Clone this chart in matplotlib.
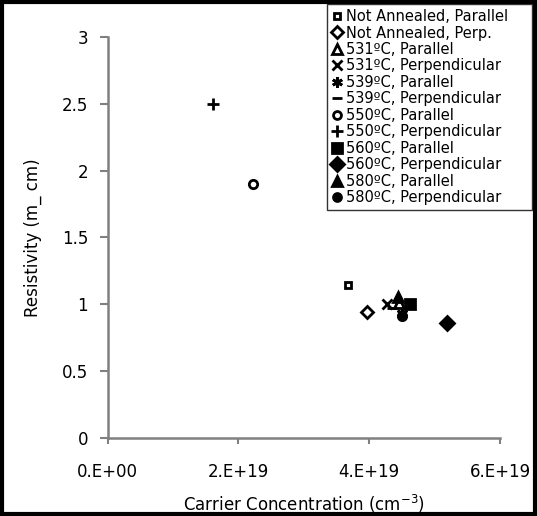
import matplotlib
matplotlib.use("Agg")
import matplotlib.pyplot as plt
from matplotlib.patches import Rectangle

# data
labels = ["Not Annealed, Parallel", "Not Annealed, Perp.",
          "531ºC, Parallel", "531ºC, Perpendicular",
          "539ºC, Parallel", "539ºC, Perpendicular",
          "550ºC, Parallel", "550ºC, Perpendicular",
          "560ºC, Parallel", "560ºC, Perpendicular",
          "580ºC, Parallel", "580ºC, Perpendicular"]
carrier = [3.68e19, 3.97e19,
           4.45e19, 4.28e19,
           4.50e19, 4.35e19,
           2.23e19, 1.61e19,
           4.62e19, 5.19e19,
           4.44e19, 4.50e19]
resist = [1.14, 0.94,
          1.01, 1.00,
          0.93, 0.97,
          1.90, 2.50,
          1.00, 0.86,
          1.05, 0.91]
xticks = [0, 2e19, 4e19, 6e19]
xtick_labels = ["0.E+00", "2.E+19", "4.E+19", "6.E+19"]
yticks = [0, 0.5, 1, 1.5, 2, 2.5, 3]
ytick_labels = ["0", "0.5", "1", "1.5", "2", "2.5", "3"]

# marker style per series: (marker, filled, size)
styles = [("s", False, 5), ("D", False, 6),
          ("^", False, 7), ("x", True, 7),
          ((6, 2, 0), True, 8), ("_", True, 7),
          ("o", False, 6), ("+", True, 9),
          ("s", True, 7), ("D", True, 7),
          ("^", True, 7), ("o", True, 6)]

plt.rcParams["font.family"] = ["DejaVu Sans"]

fig = plt.figure(figsize=(5.37, 5.16), dpi=100)
ax = fig.add_axes([0.2005, 0.152, 0.7305, 0.776])

handles = []
for lab, x, y, (m, filled, ms) in zip(labels, carrier, resist, styles):
    h, = ax.plot([x], [y], linestyle="none", marker=m, markersize=ms,
                 markerfacecolor="black" if filled else "white",
                 markeredgecolor="black", markeredgewidth=2, label=lab)
    handles.append(h)

ax.set_xlim(0, 6e19)
ax.set_ylim(0, 3)
ax.set_xticks(xticks)
ax.set_xticklabels(xtick_labels)
ax.set_yticks(yticks)
ax.set_yticklabels(ytick_labels)
for side in ["top", "right"]:
    ax.spines[side].set_visible(False)
for side in ["left", "bottom"]:
    ax.spines[side].set_color("#808080")
    ax.spines[side].set_linewidth(1.8)
ax.tick_params(axis="both", colors="#808080", labelcolor="black", width=1.5,
               labelsize=12, direction="out")
ax.tick_params(axis="y", length=6, pad=8)
ax.tick_params(axis="x", length=4, pad=14)
ax.set_xlabel("Carrier Concentration (cm$^{-3}$)", fontsize=12, labelpad=9)
ax.set_ylabel("Resistivity (m_ cm)", fontsize=12, labelpad=14)

# legend box spans x 327..532 px, top hidden under the border
x0, x1 = 327 / 537, 532 / 537
leg = fig.legend(handles=handles, loc="upper left", mode="expand",
                 bbox_to_anchor=(x0, 1 - 216 / 516, x1 - x0, 212 / 516),
                 fontsize=10.5, frameon=True, fancybox=False, borderpad=0.35,
                 labelspacing=0.1, handlelength=0.7, handletextpad=0.25,
                 borderaxespad=0, markerscale=0.95)
leg.get_frame().set_edgecolor("black")
leg.get_frame().set_linewidth(1.0)

# thick outer border
fig.patches.append(Rectangle((0.004, 0.004), 0.992, 0.992, transform=fig.transFigure,
                             fill=False, edgecolor="black", linewidth=3))

fig.savefig("out.png", dpi=100)
